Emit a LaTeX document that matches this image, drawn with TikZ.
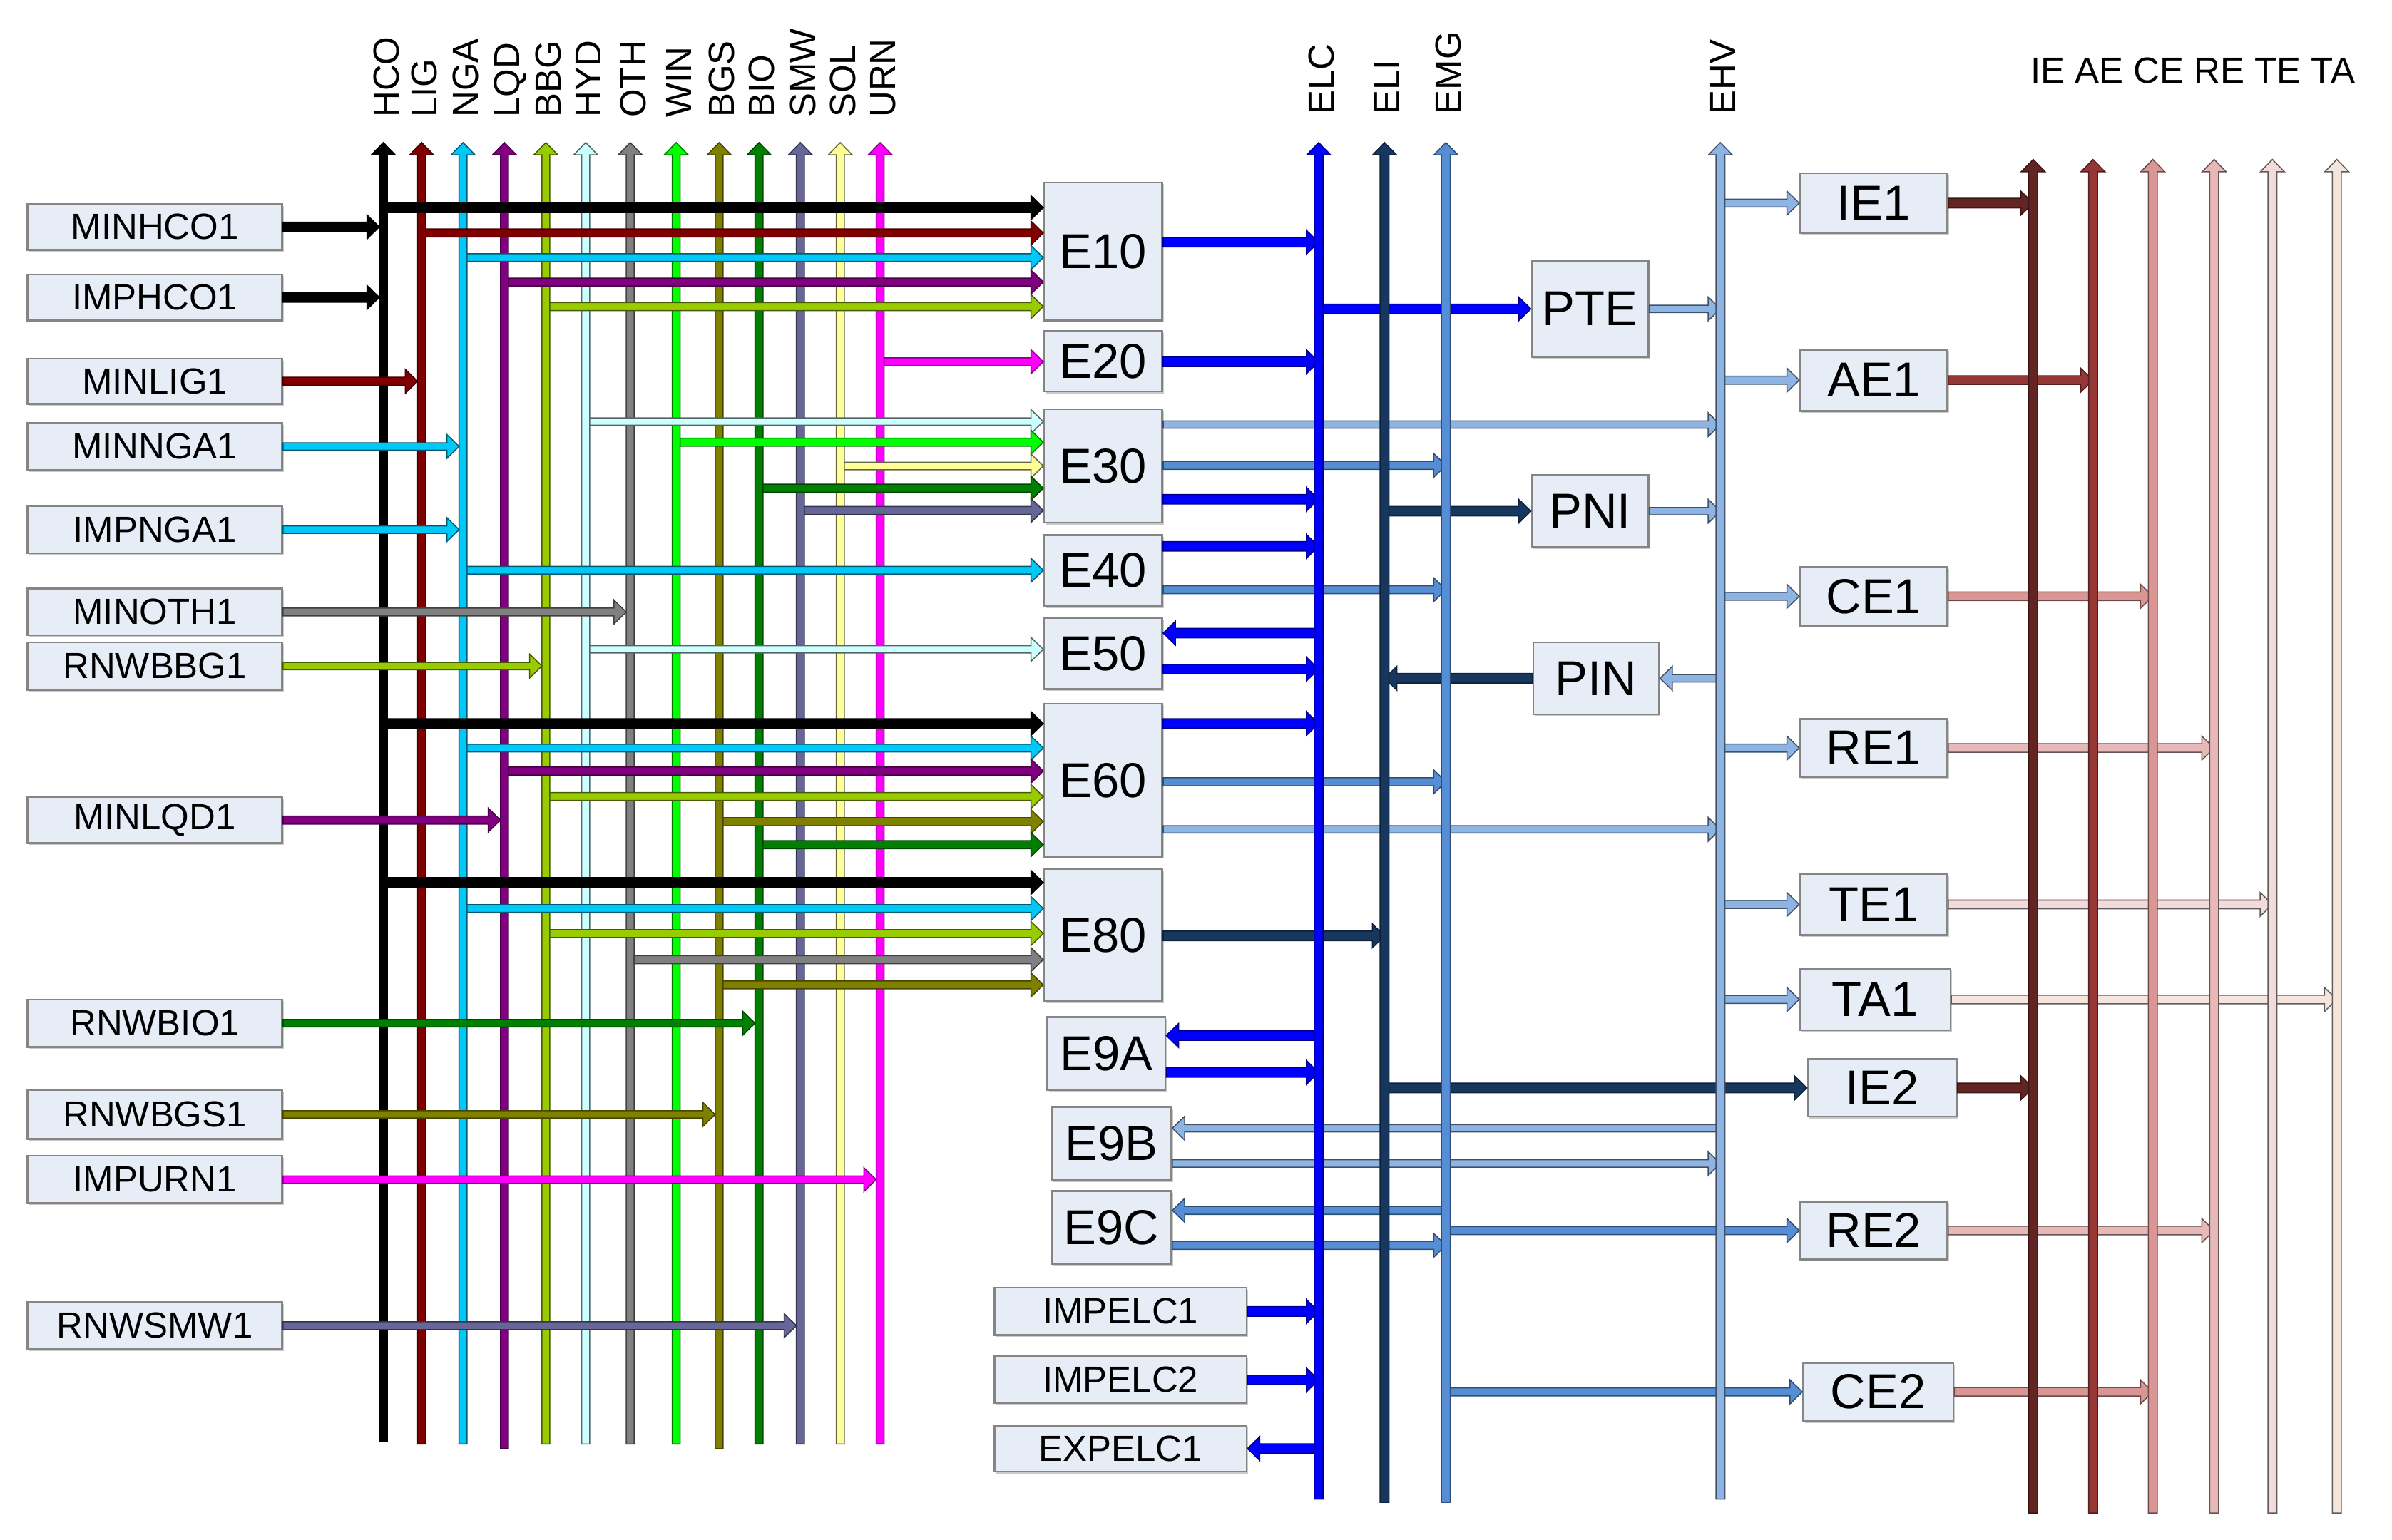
\documentclass[tikz,border=0pt]{standalone}
\usepackage{fontspec}
\setmainfont{Liberation Sans}
\usetikzlibrary{calc,shadows}
\definecolor{cHCO}{HTML}{000000}
\definecolor{cLIG}{HTML}{800000}
\definecolor{cNGA}{HTML}{00C8F8}
\definecolor{cLQD}{HTML}{800080}
\definecolor{cBBG}{HTML}{99CC00}
\definecolor{cHYD}{HTML}{CCFFFF}
\definecolor{cOTH}{HTML}{808080}
\definecolor{cWIN}{HTML}{00FF00}
\definecolor{cBGS}{HTML}{808000}
\definecolor{cBIO}{HTML}{007F00}
\definecolor{cSMW}{HTML}{666699}
\definecolor{cSOL}{HTML}{FFFF99}
\definecolor{cURN}{HTML}{FF00FF}
\definecolor{cELC}{HTML}{0000FF}
\definecolor{cELI}{HTML}{17375E}
\definecolor{cEMG}{HTML}{558ED5}
\definecolor{cEHV}{HTML}{8EB4E3}
\definecolor{cIE}{HTML}{632523}
\definecolor{cAE}{HTML}{953735}
\definecolor{cCE}{HTML}{D99694}
\definecolor{cRE}{HTML}{E6B9B8}
\definecolor{cTE}{HTML}{F2DCDB}
\definecolor{cTA}{HTML}{F4E6DC}
\definecolor{boxfill}{HTML}{E6EDF7}
\definecolor{boxline}{HTML}{858585}
\tikzset{
  ba/.style={line width=0.35pt, line join=miter},
  bHCO/.style={fill=cHCO, draw=black},
  bLIG/.style={fill=cLIG, draw=cLIG!55!black},
  bNGA/.style={fill=cNGA, draw=cNGA!45!black},
  bLQD/.style={fill=cLQD, draw=cLQD!55!black},
  bBBG/.style={fill=cBBG, draw=cBBG!45!black},
  bHYD/.style={fill=cHYD, draw=cHYD!40!black},
  bOTH/.style={fill=cOTH, draw=cOTH!50!black},
  bWIN/.style={fill=cWIN, draw=cWIN!45!black},
  bBGS/.style={fill=cBGS, draw=cBGS!55!black},
  bBIO/.style={fill=cBIO, draw=cBIO!55!black},
  bSMW/.style={fill=cSMW, draw=cSMW!50!black},
  bSOL/.style={fill=cSOL, draw=cSOL!40!black},
  bURN/.style={fill=cURN, draw=cURN!50!black},
  bELC/.style={fill=cELC, draw=cELC!55!black},
  bELI/.style={fill=cELI, draw=cELI!60!black},
  bEMG/.style={fill=cEMG, draw=cEMG!55!black},
  bEHV/.style={fill=cEHV, draw=cEHV!45!black},
  bIE/.style={fill=cIE, draw=cIE!60!black},
  bAE/.style={fill=cAE, draw=cAE!55!black},
  bCE/.style={fill=cCE, draw=cCE!50!black},
  bRE/.style={fill=cRE, draw=cRE!45!black},
  bTE/.style={fill=cTE, draw=cTE!40!black},
  bTA/.style={fill=cTA, draw=cTA!40!black},
  box/.style={draw=boxline, line width=0.6pt, fill=boxfill, inner sep=0pt,
    drop shadow={shadow xshift=0.5pt, shadow yshift=-0.6pt, opacity=0.35, fill=black!60}},
  src/.style={box, font=\fontsize{11.85}{13}\selectfont},
  proc/.style={box, font=\fontsize{16}{18}\selectfont},
  vlab/.style={rotate=90, anchor=west, inner sep=0pt, text height=8.5pt, text depth=0pt,
    font=\fontsize{11.85}{13}\selectfont},
  hlab/.style={inner sep=0pt, font=\fontsize{11.85}{13}\selectfont}
}
\def\HL{4pt}
\def\HW{3.9pt}
% horizontal block arrow: y taken from the start, x from start and end
\newcommand\hba[4][1.3]{%
  \path[ba,#2] let \p1=#3, \p2=#4, \n1={ifthenelse(\x2>\x1,1,-1)} in
    (\x1,{\y1-#1pt}) -- ({\x2-(\n1)*\HL},{\y1-#1pt}) -- ({\x2-(\n1)*\HL},{\y1-\HW})
    -- (\x2,\y1) -- ({\x2-(\n1)*\HL},{\y1+\HW}) -- ({\x2-(\n1)*\HL},{\y1+#1pt})
    -- (\x1,{\y1+#1pt}) -- cycle;}
% vertical block arrow: x taken from the start
\newcommand\vba[4][1.3]{%
  \path[ba,#2] let \p1=#3, \p2=#4, \n1={ifthenelse(\y2>\y1,1,-1)} in
    ({\x1-#1pt},\y1) -- ({\x1-#1pt},{\y2-(\n1)*\HL}) -- ({\x1-\HW},{\y2-(\n1)*\HL})
    -- (\x1,\y2) -- ({\x1+\HW},{\y2-(\n1)*\HL}) -- ({\x1+#1pt},{\y2-(\n1)*\HL})
    -- ({\x1+#1pt},\y1) -- cycle;}
% source box -> fuel bus (tip at left edge of the bus)
\newcommand\srca[4][1.3]{\hba[#1]{#2}{(#3.east)}{($(#4)+(-2.6,0)$)}}
% fuel bus -> process box (starts at right edge of the bus)
\newcommand\feed[5][1.3]{\hba[#1]{#2}{($(#3 |- 0,#4)+(2.6,0)$)}{(#5.west)}}
\newcommand\bx[7]{\node[#1, minimum width={(#5-#3)*0.5pt}, minimum height={(#6-#4)*0.5pt}] (#2) at ({(#3+#5)/2},{(#4+#6)/2}) {#7};}
\begin{document}
\begin{tikzpicture}[x=0.5pt,y=-0.5pt]
\useasboundingbox (0,0) rectangle (1560,1004.65);
% ---------------- bus coordinates and labels ----------------
\foreach \bn/\bxx/\bb in {HCO/250/940, LIG/275/942, NGA/302/942, LQD/329/945, BBG/356/942,
  HYD/382/942, OTH/411/942, WIN/441/942, BGS/469/945, BIO/495/942, SMW/522/942,
  SOL/548/942, URN/574/942}{
  \coordinate (\bn) at (\bxx,93); \coordinate (\bn-b) at (\bxx,\bb);
  \node[vlab] at (\bxx+1.5,77) {\bn};}
\foreach \bn/\bxx/\bb in {ELC/860/978, ELI/903/980, EMG/943/980, EHV/1122/978}{
  \coordinate (\bn) at (\bxx,93); \coordinate (\bn-b) at (\bxx,\bb);
  \node[vlab] at (\bxx+1.5,75) {\bn};}
\foreach \bn/\bxx in {IE/1326, AE/1365, CE/1404, RE/1444, TE/1482, TA/1524}{
  \coordinate (\bn) at (\bxx,104); \coordinate (\bn-b) at (\bxx,987);}
\node[hlab] (toplab) at (1430,46) {IE AE CE RE TE TA};
% ---------------- boxes ----------------
\bx{src}{MINHCO1}{18}{133}{184}{163}{MINHCO1}
\bx{src}{IMPHCO1}{18}{179}{184}{209}{IMPHCO1}
\bx{src}{MINLIG1}{18}{234}{184}{263.5}{MINLIG1}
\bx{src}{MINNGA1}{18}{276}{184}{306.5}{MINNGA1}
\bx{src}{IMPNGA1}{18}{330}{184}{361}{IMPNGA1}
\bx{src}{MINOTH1}{18}{384}{184}{414.5}{MINOTH1}
\bx{src}{RNWBBG1}{18}{419}{184}{450}{RNWBBG1}
\bx{src}{MINLQD1}{18}{520}{184}{550}{MINLQD1}
\bx{src}{RNWBIO1}{18}{652}{184}{683}{RNWBIO1}
\bx{src}{RNWBGS1}{18}{711}{184}{743}{RNWBGS1}
\bx{src}{IMPURN1}{18}{754}{184}{785}{IMPURN1}
\bx{src}{RNWSMW1}{18}{849.6}{184}{880}{RNWSMW1}
\bx{proc}{E10}{681}{119}{758}{209}{E10}
\bx{proc}{E20}{681}{216}{758}{255.4}{E20}
\bx{proc}{E30}{681}{267}{758}{341}{E30}
\bx{proc}{E40}{681}{349}{758}{395.4}{E40}
\bx{proc}{E50}{681}{403}{758}{449.6}{E50}
\bx{proc}{E60}{681}{459}{758}{559}{E60}
\bx{proc}{E80}{681}{567}{758}{653}{E80}
\bx{proc}{E9A}{683}{663.5}{760}{711}{E9A}
\bx{proc}{E9B}{686}{722}{764}{770}{E9B}
\bx{proc}{E9C}{686}{777}{764}{824.5}{E9C}
\bx{proc}{PTE}{999}{170}{1075}{233}{PTE}
\bx{proc}{PNI}{999}{310}{1075}{357}{PNI}
\bx{proc}{PIN}{1000}{419}{1082}{466}{PIN}
\bx{proc}{IE1}{1174}{113}{1270}{152}{IE1}
\bx{proc}{AE1}{1174}{228}{1270}{268}{AE1}
\bx{proc}{CE1}{1174}{370}{1270}{408}{CE1}
\bx{proc}{RE1}{1174}{469}{1270}{507}{RE1}
\bx{proc}{TE1}{1174}{570}{1270}{610}{TE1}
\bx{proc}{TA1}{1174}{632}{1272}{672}{TA1}
\bx{proc}{IE2}{1179}{691}{1276}{728.4}{IE2}
\bx{proc}{RE2}{1174}{784}{1270}{821.5}{RE2}
\bx{proc}{CE2}{1176}{889}{1274}{927}{CE2}
\bx{src}{IMPELC1}{648.5}{840}{813}{871}{IMPELC1}
\bx{src}{IMPELC2}{648.5}{885}{813}{915.4}{IMPELC2}
\bx{src}{EXPELC1}{648.5}{930}{813}{960}{EXPELC1}
% ---------------- E boxes <-> energy buses (under the buses) ----------------
\hba[1.55]{bELC}{(E10.east |- 0,158)}{(ELC)}
\hba[1.55]{bELC}{(E20.east |- 0,236)}{(ELC)}
\hba[1.2]{bEHV}{(E30.east |- 0,277)}{(EHV)}
\hba[1.3]{bEMG}{(E30.east |- 0,303.6)}{(EMG)}
\hba[1.55]{bELC}{(E30.east |- 0,325.7)}{(ELC)}
\hba[1.55]{bELC}{(E40.east |- 0,356.4)}{(ELC)}
\hba[1.3]{bEMG}{(E40.east |- 0,384.7)}{(EMG)}
\hba[1.55]{bELC}{(ELC |- 0,413)}{(E50.east)}
\hba[1.55]{bELC}{(E50.east |- 0,436.5)}{(ELC)}
\hba[1.55]{bELC}{(E60.east |- 0,472)}{(ELC)}
\hba[1.3]{bEMG}{(E60.east |- 0,510)}{(EMG)}
\hba[1.2]{bEHV}{(E60.east |- 0,541)}{(EHV)}
\hba[1.55]{bELI}{(E80.east |- 0,610.5)}{(ELI)}
\hba[1.55]{bELC}{(ELC |- 0,675.5)}{(E9A.east)}
\hba[1.55]{bELC}{(E9A.east |- 0,699.6)}{(ELC)}
\hba[1.2]{bEHV}{(EHV |- 0,736)}{(E9B.east)}
\hba[1.2]{bEHV}{(E9B.east |- 0,759)}{(EHV)}
\hba[1.3]{bEMG}{(EMG |- 0,789.6)}{(E9C.east)}
\hba[1.3]{bEMG}{(E9C.east |- 0,812.4)}{(EMG)}
\hba[1.55]{bELC}{(IMPELC1.east)}{(ELC)}
\hba[1.55]{bELC}{(IMPELC2.east)}{(ELC)}
\hba[1.55]{bELC}{(ELC |- EXPELC1.east)}{(EXPELC1.east)}
% ---------------- middle ----------------
\hba[1.55]{bELC}{(ELC |- PTE.west)}{(PTE.west)}
\hba[1.2]{bEHV}{(PTE.east)}{(EHV)}
\hba[1.55]{bELI}{(ELI |- PNI.west)}{(PNI.west)}
\hba[1.2]{bEHV}{(PNI.east)}{(EHV)}
\hba[1.2]{bEHV}{(EHV |- PIN.east)}{(PIN.east)}
\hba[1.55]{bELI}{(PIN.west)}{(ELI)}
\hba[1.3]{bEHV}{(EHV |- IE1.west)}{(IE1.west)}
\hba[1.3]{bEHV}{(EHV |- AE1.west)}{(AE1.west)}
\hba[1.3]{bEHV}{(EHV |- CE1.west)}{(CE1.west)}
\hba[1.3]{bEHV}{(EHV |- RE1.west)}{(RE1.west)}
\hba[1.3]{bEHV}{(EHV |- TE1.west)}{(TE1.west)}
\hba[1.3]{bEHV}{(EHV |- TA1.west)}{(TA1.west)}
\hba[1.55]{bELI}{(ELI |- IE2.west)}{(IE2.west)}
\hba[1.3]{bEMG}{(EMG |- RE2.west)}{(RE2.west)}
\hba[1.3]{bEMG}{(EMG |- CE2.west)}{(CE2.west)}
\hba[1.55]{bIE}{(IE1.east)}{(IE)}
\hba[1.4]{bAE}{(AE1.east)}{(AE)}
\hba[1.4]{bCE}{(CE1.east)}{(CE)}
\hba[1.4]{bRE}{(RE1.east)}{(RE)}
\hba[1.4]{bTE}{(TE1.east)}{(TE)}
\hba[1.4]{bTA}{(TA1.east)}{(TA)}
\hba[1.55]{bIE}{(IE2.east)}{(IE)}
\hba[1.4]{bRE}{(RE2.east)}{(RE)}
\hba[1.4]{bCE}{(CE2.east)}{(CE)}
% ---------------- buses ----------------
\foreach \bn in {ELC,ELI,EMG,EHV,IE,AE,CE,RE,TE,TA}{
  \vba[1.45]{b\bn}{(\bn-b)}{(\bn)}}
\foreach \bn in {HCO,LIG,NGA,LQD,BBG,HYD,OTH,WIN,BGS,BIO,SMW,SOL,URN}{
  \vba[1.3]{b\bn}{(\bn-b)}{(\bn)}}
% ---------------- sources -> fuel buses (over the buses) ----------------
\srca[1.55]{bHCO}{MINHCO1}{HCO}
\srca[1.55]{bHCO}{IMPHCO1}{HCO}
\srca[1.3]{bLIG}{MINLIG1}{LIG}
\srca[1.2]{bNGA}{MINNGA1}{NGA}
\srca[1.2]{bNGA}{IMPNGA1}{NGA}
\srca[1.3]{bOTH}{MINOTH1}{OTH}
\srca[1.2]{bBBG}{RNWBBG1}{BBG}
\srca[1.3]{bLQD}{MINLQD1}{LQD}
\srca[1.2]{bBIO}{RNWBIO1}{BIO}
\srca[1.2]{bBGS}{RNWBGS1}{BGS}
\srca[1.2]{bURN}{IMPURN1}{URN}
\srca[1.3]{bSMW}{RNWSMW1}{SMW}
% ---------------- fuel buses -> E boxes ----------------
\feed[1.55]{bHCO}{HCO}{135.5}{E10}
\feed{bLIG}{LIG}{152}{E10}
\feed[1.25]{bNGA}{NGA}{168}{E10}
\feed{bLQD}{LQD}{184}{E10}
\feed{bBBG}{BBG}{200}{E10}
\feed{bURN}{URN}{236}{E20}
\feed[1.2]{bHYD}{HYD}{275}{E30}
\feed{bWIN}{WIN}{288.5}{E30}
\feed[1.2]{bSOL}{SOL}{304}{E30}
\feed{bBIO}{BIO}{318.5}{E30}
\feed{bSMW}{SMW}{333}{E30}
\feed[1.25]{bNGA}{NGA}{372}{E40}
\feed[1.2]{bHYD}{HYD}{423.6}{E50}
\feed[1.55]{bHCO}{HCO}{472}{E60}
\feed[1.25]{bNGA}{NGA}{488}{E60}
\feed{bLQD}{LQD}{503}{E60}
\feed{bBBG}{BBG}{519.6}{E60}
\feed{bBGS}{BGS}{536}{E60}
\feed{bBIO}{BIO}{551}{E60}
\feed[1.55]{bHCO}{HCO}{575.6}{E80}
\feed[1.25]{bNGA}{NGA}{592.7}{E80}
\feed{bBBG}{BBG}{609}{E80}
\feed{bOTH}{OTH}{626}{E80}
\feed{bBGS}{BGS}{642.5}{E80}
\end{tikzpicture}
\end{document}
